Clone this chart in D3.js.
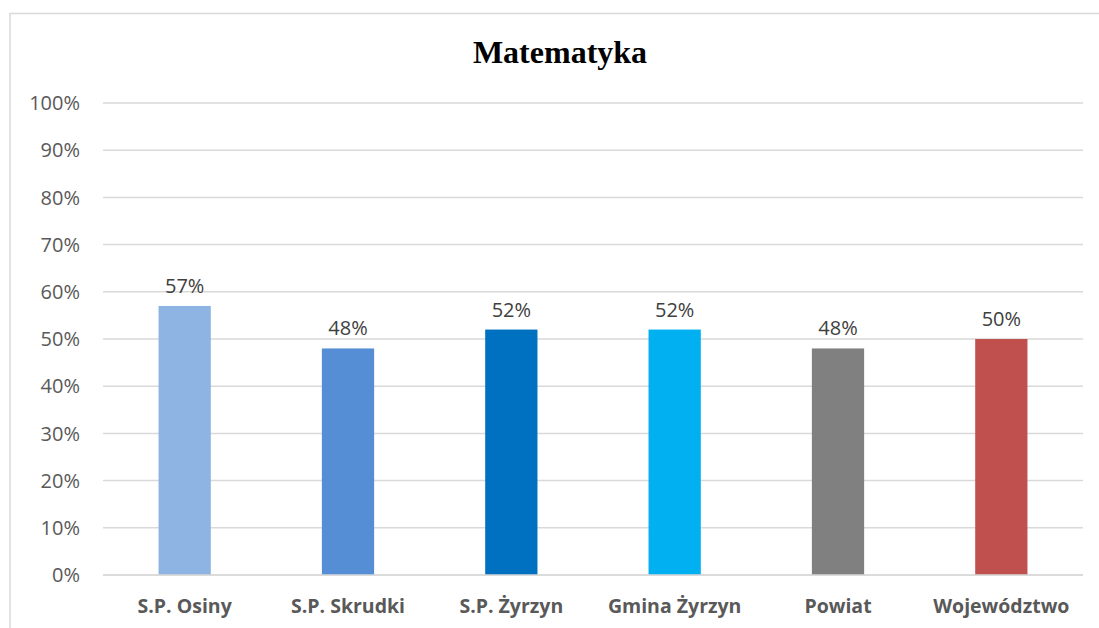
<!DOCTYPE html>
<html>
<head>
<meta charset="utf-8">
<script src="https://cdn.jsdelivr.net/npm/d3@7.9.0/dist/d3.min.js"></script>
<style>
  body { margin: 0; background: #fff; }
  svg { display: block; }
</style>
</head>
<body>
<svg id="chart" width="1099" height="628"></svg>
<script>
// Chart data
const categories = ['S.P. Osiny', 'S.P. Skrudki', 'S.P. Żyrzyn', 'Gmina Żyrzyn', 'Powiat', 'Województwo'];
const values = [0.57, 0.48, 0.52, 0.52, 0.48, 0.50];
const barColors = ['#8EB4E3', '#558ED5', '#0070C0', '#00B0F0', '#808080', '#C0504D'];
const yTicks = [0, 0.1, 0.2, 0.3, 0.4, 0.5, 0.6, 0.7, 0.8, 0.9, 1];
const title = 'Matematyka';

const svg = d3.select('#chart');
const labelFont = '"Open Sans", "Noto Sans", sans-serif';

// Chart frame (cut off on right and bottom)
svg.append('rect')
  .attr('x', 10).attr('y', 13.5)
  .attr('width', 1120).attr('height', 640)
  .attr('fill', 'none')
  .attr('stroke', '#d9d9d9')
  .attr('stroke-width', 1.5);

// Scales
const x = d3.scaleBand()
  .domain(categories)
  .range([103, 1083])
  .paddingInner(0.68)
  .paddingOuter(0.34);

const y = d3.scaleLinear()
  .domain([0, 1])
  .range([575, 103]);

// Gridlines
svg.append('g')
  .selectAll('line')
  .data(yTicks)
  .join('line')
  .attr('x1', 103).attr('x2', 1083)
  .attr('y1', d => y(d)).attr('y2', d => y(d))
  .attr('stroke', '#d9d9d9')
  .attr('stroke-width', 1.5);

// Y axis labels
svg.append('g')
  .selectAll('text')
  .data(yTicks)
  .join('text')
  .attr('x', 80)
  .attr('y', d => y(d))
  .attr('dy', '0.36em')
  .attr('text-anchor', 'end')
  .attr('font-family', labelFont)
  .attr('font-size', 20)
  .attr('fill', '#595959')
  .text(d => d3.format('.0%')(d));

// Bars
svg.append('g')
  .selectAll('rect')
  .data(values)
  .join('rect')
  .attr('x', (d, i) => x(categories[i]))
  .attr('y', d => y(d))
  .attr('width', x.bandwidth())
  .attr('height', d => y(0) - y(d))
  .attr('fill', (d, i) => barColors[i]);

// Redraw baseline over bars
svg.append('line')
  .attr('x1', 103).attr('x2', 1083)
  .attr('y1', y(0)).attr('y2', y(0))
  .attr('stroke', '#d9d9d9')
  .attr('stroke-width', 1.5);

// Data labels
svg.append('g')
  .selectAll('text')
  .data(values)
  .join('text')
  .attr('x', (d, i) => x(categories[i]) + x.bandwidth() / 2)
  .attr('y', d => y(d) - 13)
  .attr('text-anchor', 'middle')
  .attr('font-family', labelFont)
  .attr('font-size', 20)
  .attr('fill', '#404040')
  .text(d => d3.format('.0%')(d));

// Category labels
svg.append('g')
  .selectAll('text')
  .data(categories)
  .join('text')
  .attr('x', d => x(d) + x.bandwidth() / 2)
  .attr('y', 613)
  .attr('text-anchor', 'middle')
  .attr('font-family', labelFont)
  .attr('font-weight', 'bold')
  .attr('font-size', 19.5)
  .attr('fill', '#595959')
  .text(d => d);

// Title
svg.append('text')
  .attr('x', 560)
  .attr('y', 63)
  .attr('text-anchor', 'middle')
  .attr('font-family', '"Liberation Serif", "DejaVu Serif", serif')
  .attr('font-weight', 'bold')
  .attr('font-size', 32)
  .attr('fill', '#000')
  .text(title);
</script>
</body>
</html>
